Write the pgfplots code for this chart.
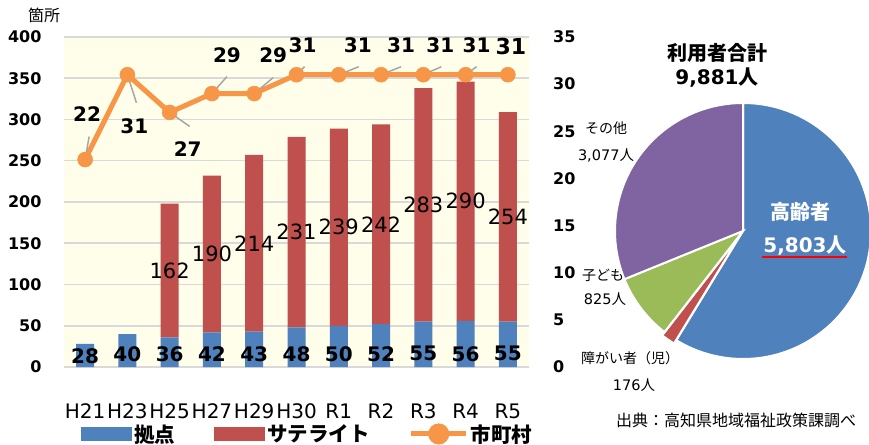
\documentclass[border=0pt]{standalone}
\usepackage{pgfplots}
\pgfplotsset{compat=1.18}
\usepackage{fontspec}
\setmainfont{DejaVu Sans}
\newfontfamily\jp{Noto Sans CJK JP}
\definecolor{kyoten}{RGB}{79,129,189}
\definecolor{sate}{RGB}{192,80,77}
\definecolor{shicho}{RGB}{247,150,70}
\definecolor{kodomo}{RGB}{155,187,89}
\definecolor{sonota}{RGB}{128,100,162}
\definecolor{plotbg}{RGB}{255,254,234}
\definecolor{gridc}{RGB}{217,217,217}
\definecolor{leader}{RGB}{166,166,166}
\newcommand\fs[1]{\fontsize{#1}{#1}\selectfont}
% leader line + label for the line series: x, value, label dx, dy, leader dx, dy
\newcommand\vlab[6]{%
  \draw[leader, line width=1.5pt] (axis cs:#1,#2) -- ++(#5pt,#6pt);
  \node[font=\fs{20}\bfseries] at ([xshift=#3pt,yshift=#4pt]axis cs:#1,#2) {#2};}

\begin{document}
\begin{tikzpicture}
\useasboundingbox (0,0) rectangle (869pt,444pt);
\pgfplotsset{base/.style={at={(64pt,77pt)}, anchor=south west,
  width=465pt, height=330pt, scale only axis,
  xmin=-0.5, xmax=10.5, major tick length=0pt}}

% bars
\begin{axis}[base, ymin=0, ymax=400, ytick={0,50,...,400},
  xtick={0,...,10},
  xticklabels={H21,H23,H25,H27,H29,H30,R1,R2,R3,R4,R5},
  xticklabel style={font=\fs{20}, anchor=base, yshift=-51pt},
  yticklabel style={font=\fs{16}\bfseries, anchor=east, xshift=-19pt},
  /pgf/number format/assume math mode=true,
  axis background/.style={fill=plotbg},
  ymajorgrids, grid style={draw=gridc, line width=1.5pt},
  axis line style={draw=none},
  ybar stacked, bar width=18pt]
\addplot[fill=kyoten, draw=none] coordinates {
  (0,28) (1,40) (2,36) (3,42) (4,43) (5,48) (6,50) (7,52) (8,55) (9,56) (10,55)};
\addplot[fill=sate, draw=none] coordinates {
  (0,0) (1,0) (2,162) (3,190) (4,214) (5,231) (6,239) (7,242) (8,283) (9,290) (10,254)};
\end{axis}

% bar labels
\begin{axis}[base, ymin=0, ymax=400, hide axis, clip=false]
\addplot[no markers, draw=none, nodes near coords, point meta=explicit symbolic,
  every node near coord/.append style={anchor=center, font=\fs{20}\bfseries}]
  coordinates {(0,13)[28] (1,16)[40] (2,16)[36] (3,16)[42] (4,16)[43] (5,16)[48]
  (6,16)[50] (7,16)[52] (8,16)[55] (9,16)[56] (10,16)[55]};
\addplot[no markers, draw=none, nodes near coords, point meta=explicit symbolic,
  every node near coord/.append style={anchor=center, font=\fs{21}}]
  coordinates {(2,117)[162] (3,137)[190] (4,150)[214] (5,163.5)[231] (6,169.5)[239]
  (7,173)[242] (8,196.5)[283] (9,201)[290] (10,182)[254]};
\end{axis}

% line on right axis
\begin{axis}[base, ymin=0, ymax=35, ytick={0,5,...,35},
  hide x axis, axis y line*=right, y axis line style={draw=none},
  yticklabel style={font=\fs{16}\bfseries, anchor=west, xshift=20.7pt},
  /pgf/number format/assume math mode=true,
  clip=false,
  legend style={at={(0.0366,-0.203)}, anchor=west, draw=none, fill=none,
    inner sep=0pt, font=\jp\bfseries\fs{20.5},
    /tikz/every even column/.append style={column sep=37pt}},
  legend columns=3]
\addlegendimage{fill=kyoten, draw=none,
  legend image code/.code={\fill[kyoten] (0pt,-7pt) rectangle (51pt,7pt);}}
\addlegendentry{拠点}
\addlegendimage{fill=sate, draw=none,
  legend image code/.code={\fill[sate] (0pt,-7pt) rectangle (51pt,7pt);}}
\addlegendentry{サテライト}
\addplot[shicho, line width=5pt, mark=*, mark size=7.5pt,
  mark options={solid, line width=0.5pt, fill=shicho},
  legend image code/.code={\draw[shicho, line width=5pt] (0pt,0pt) -- (55pt,0pt);
    \fill[shicho] (27.5pt,0pt) circle (8pt);}]
  coordinates {(0,22) (1,31) (2,27) (3,29) (4,29) (5,31) (6,31) (7,31) (8,31) (9,31) (10,31)};
\addlegendentry{市町村}
\vlab{0}{22}{2}{45}{4}{23}
\vlab{1}{31}{7}{-52}{9}{-28}
\vlab{2}{27}{18}{-37}{20}{-14}
\vlab{3}{29}{15}{38}{15}{17}
\vlab{4}{29}{19}{38}{19}{16}
\vlab{5}{31}{6}{29}{8}{8}
\vlab{6}{31}{19}{29}{20}{8}
\vlab{7}{31}{20}{29}{20}{8}
\vlab{8}{31}{17}{29}{18}{8}
\vlab{9}{31}{11}{29}{11}{8}
\node[font=\fs{22}\bfseries] at ([xshift=3pt,yshift=28pt]axis cs:10,31) {31};
\end{axis}

% pie
\pgfmathsetmacro\tot{5803+176+825+3077}
\pgfmathsetmacro\aA{90-360*(5803/\tot)}
\pgfmathsetmacro\aB{\aA-360*(176/\tot)}
\pgfmathsetmacro\aC{\aB-360*(825/\tot)}
\pgfmathsetmacro\mB{(\aA+\aB)/2}
\begin{axis}[at={(743pt,213pt)}, anchor=center, width=256pt, height=256pt,
  scale only axis, xmin=-1, xmax=1, ymin=-1, ymax=1, hide axis, clip=false]
\fill[kyoten, draw=white, line width=2pt] (axis cs:0,0) -- ++(90:128pt)
  arc[start angle=90, end angle=\aA, radius=128pt] -- cycle;
\fill[sate, draw=white, line width=2pt, shift={(\mB:4pt)}] (axis cs:0,0) -- ++(\aA:128pt)
  arc[start angle=\aA, end angle=\aB, radius=128pt] -- cycle;
\fill[kodomo, draw=white, line width=2pt] (axis cs:0,0) -- ++(\aB:128pt)
  arc[start angle=\aB, end angle=\aC, radius=128pt] -- cycle;
\fill[sonota, draw=white, line width=2pt] (axis cs:0,0) -- ++(\aC:128pt)
  arc[start angle=\aC, end angle=-270, radius=128pt] -- cycle;
\end{axis}

% texts
\node[font=\jp\fs{16}] at (44pt,429pt) {箇所};
\node[font=\jp\bfseries\fs{20}] at (717pt,391pt) {利用者合計};
\node[font=\bfseries\fs{20}] at (717pt,366pt) {9,881{\jp 人}};
\node[font=\jp\bfseries\fs{20}, text=white] at (800pt,232pt) {高齢者};
\node[font=\bfseries\fs{20}, text=white] at (805pt,198pt) {5,803{\jp 人}};
\draw[red, line width=2.5pt] (762pt,187pt) -- (847pt,187pt);
\node[font=\jp\fs{14}] at (606pt,316pt) {その他};
\node[font=\fs{14.5}] at (606pt,289pt) {3,077{\jp 人}};
\node[font=\jp\fs{14}] at (603pt,169pt) {子ども};
\node[font=\fs{14.5}] at (605pt,145pt) {825{\jp 人}};
\node[font=\jp\fs{14}] at (630pt,86pt) {障がい者（児）};
\node[font=\fs{14.5}] at (634pt,59pt) {176{\jp 人}};
\node[font=\jp\fs{16}] at (736pt,24pt) {出典：高知県地域福祉政策課調べ};
\end{tikzpicture}
\end{document}
